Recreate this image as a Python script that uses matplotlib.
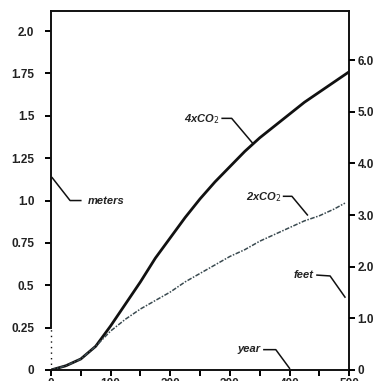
import matplotlib.pyplot as plt
import numpy as np

plt.rcParams["font.family"] = ["Liberation Sans", "DejaVu Sans"]

# sea level rise (meters)
years_4x = [0, 25, 50, 75, 100, 125, 150, 175, 200, 225, 250, 275, 300, 325,
            350, 375, 400, 425, 450, 475, 500]
rise_4x = [0.0, 0.025, 0.065, 0.14, 0.26, 0.39, 0.52, 0.66, 0.78, 0.90, 1.01,
           1.11, 1.20, 1.29, 1.37, 1.44, 1.51, 1.58, 1.64, 1.70, 1.76]

years_2x = [0, 25, 50, 75, 100, 125, 150, 175, 200, 225, 250, 275, 300, 325,
            350, 375, 400, 425, 450, 475, 493]
rise_2x = [0.0, 0.025, 0.065, 0.14, 0.23, 0.30, 0.36, 0.41, 0.46, 0.52, 0.57,
           0.62, 0.67, 0.71, 0.76, 0.80, 0.84, 0.88, 0.91, 0.95, 0.985]

left_ticks = [0, 0.25, 0.5, 0.75, 1.0, 1.25, 1.5, 1.75, 2.0]
left_labels = ["0", "0.25", "0.5", "0.75", "1.0", "1.25", "1.5", "1.75", "2.0"]
right_ticks = [0, 1, 2, 3, 4, 5, 6]
right_labels = ["0", "1.0", "2.0", "3.0", "4.0", "5.0", "6.0"]
x_ticks = [0, 100, 200, 300, 400, 500]

M_TO_FT = 3.281
YMAX = 2.118

fig = plt.figure(figsize=(3.76, 3.81), dpi=100)
ax = fig.add_axes([0.1356, 0.0289, 0.793, 0.942])

ax.plot(years_4x, rise_4x, color="#111111", lw=2.0, solid_capstyle="round")
ax.plot(years_2x, rise_2x, color="#3a4a50", lw=1.1, ls=(0, (3, 1, 1, 1)))

ax.set_xlim(0, 500)
ax.set_ylim(0, YMAX)

for s in ax.spines.values():
    s.set_linewidth(1.4)
    s.set_color("#111111")
ax.spines["left"].set_bounds(0.25, YMAX)
ax.plot([0, 0], [0, 0.25], color="#111111", lw=1.0, ls=(0, (1, 3)), clip_on=False)

ax.set_yticks(left_ticks)
ax.set_yticklabels(left_labels)
ax.set_xticks(x_ticks)
ax.set_xticks(np.arange(50, 500, 100), minor=True)
ax.tick_params(axis="y", direction="out", length=4, width=1.4, pad=8,
               labelsize=8.5)
ax.tick_params(axis="x", which="both", direction="out", length=4, width=1.4,
               labelsize=8.5, pad=2)
for lab in ax.get_yticklabels() + ax.get_xticklabels():
    lab.set_fontweight("bold")
    lab.set_color("#222222")

ax2 = ax.twinx()
ax2.set_ylim(0, YMAX * M_TO_FT)
ax2.set_yticks(right_ticks)
ax2.set_yticklabels(right_labels)
ax2.tick_params(axis="y", direction="out", length=4, width=1.4, pad=2,
                labelsize=8.5)
for lab in ax2.get_yticklabels():
    lab.set_fontweight("bold")
    lab.set_color("#222222")
for s in ax2.spines.values():
    s.set_visible(False)

lab_kw = dict(fontsize=8, fontstyle="italic", fontweight="bold", color="#222222")
lead_kw = dict(color="#111111", lw=1.1, clip_on=False)

# 4xCO2 label
ax.text(282, 1.48, "4xCO$_2$", ha="right", va="center", **lab_kw)
ax.plot([287, 303, 339], [1.485, 1.485, 1.335], **lead_kw)
# 2xCO2 label
ax.text(386, 1.02, "2xCO$_2$", ha="right", va="center", **lab_kw)
ax.plot([390, 404, 430], [1.025, 1.025, 0.915], **lead_kw)
# meters
ax.text(62, 0.996, "meters", ha="left", va="center", **lab_kw)
ax.plot([2, 32, 50], [1.135, 1.0, 1.0], **lead_kw)
# feet
ax.text(440, 0.56, "feet", ha="right", va="center", **lab_kw)
ax.plot([446, 468, 493], [0.56, 0.555, 0.43], **lead_kw)
# year
ax.text(352, 0.125, "year", ha="right", va="center", **lab_kw)
ax.plot([357, 377, 400], [0.12, 0.12, 0.01], **lead_kw)

fig.savefig("out.png", dpi=100)
